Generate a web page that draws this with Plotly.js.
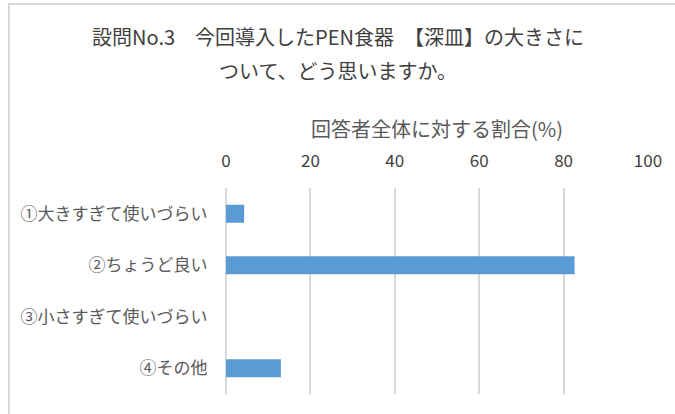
<!DOCTYPE html>
<html>
<head>
<meta charset="utf-8">
<script src="https://cdn.plot.ly/plotly-3.0.1.min.js"></script>
<style>
  html, body { margin: 0; padding: 0; background: #fff; }
  #wrap { position: relative; width: 675px; height: 414px; overflow: hidden; }
  #frame { position: absolute; left: 8px; top: 3px; width: 700px; height: 440px; border: 2px solid #d9d9d9; box-sizing: border-box; }
  #chart { position: absolute; left: 0; top: 0; width: 675px; height: 414px; }
</style>
</head>
<body>
<div id="wrap">
  <div id="frame"></div>
  <div id="chart"></div>
</div>
<script>
const categories = ["①大きすぎて使いづらい", "②ちょうど良い", "③小さすぎて使いづらい", "④その他"];
const values = [4.3, 82.6, 0, 13.0];
const titleLine1 = "設問No.3　今回導入したPEN食器　【深皿】の大きさに";
const titleLine2 = "ついて、どう思いますか。";
const axisTitle = "回答者全体に対する割合(%)";
const tickValues = [0, 20, 40, 60, 80, 100];

const font = "'Noto Sans CJK JP', 'Noto Sans', sans-serif";
const textColor = "#595959";

const data = [{
  type: "bar",
  orientation: "h",
  y: categories,
  x: values,
  marker: { color: "#5B9BD5", line: { width: 0 } },
  hoverinfo: "x+y"
}];

const layout = {
  width: 675,
  height: 414,
  paper_bgcolor: "rgba(0,0,0,0)",
  plot_bgcolor: "rgba(0,0,0,0)",
  margin: { l: 226, r: 27, t: 188, b: 20 },
  font: { family: font, color: textColor },
  showlegend: false,
  bargap: 0.65,
  title: {
    text: titleLine1,
    font: { size: 20, color: "#404040", family: font },
    x: 338 / 675, xref: "container", xanchor: "center",
    y: 1 - 38 / 414, yref: "container", yanchor: "middle"
  },
  annotations: [{
    text: titleLine2,
    xref: "paper", yref: "paper",
    x: (338 - 226) / 422, xanchor: "center",
    y: (394 - 70) / 206, yanchor: "middle",
    showarrow: false,
    font: { size: 20, color: "#404040", family: font }
  }],
  xaxis: {
    side: "top",
    range: [0, 100],
    tickvals: tickValues,
    ticktext: tickValues.map(String),
    showgrid: true,
    gridcolor: "#d9d9d9",
    gridwidth: 2,
    zeroline: true,
    zerolinecolor: "#d9d9d9",
    zerolinewidth: 2,
    showline: false,
    ticks: "outside",
    ticklen: 13,
    tickcolor: "rgba(0,0,0,0)",
    tickfont: { size: 17, color: "#404040", family: font },
    title: {
      text: axisTitle,
      font: { size: 20, color: textColor, family: font },
      standoff: 4
    },
    fixedrange: true
  },
  yaxis: {
    type: "category",
    autorange: "reversed",
    showgrid: false,
    zeroline: false,
    showline: false,
    ticks: "outside",
    ticklen: 14,
    tickcolor: "rgba(0,0,0,0)",
    tickfont: { size: 17, color: textColor, family: font },
    fixedrange: true
  }
};

Plotly.newPlot("chart", data, layout, { displayModeBar: false, staticPlot: true });
</script>
</body>
</html>
